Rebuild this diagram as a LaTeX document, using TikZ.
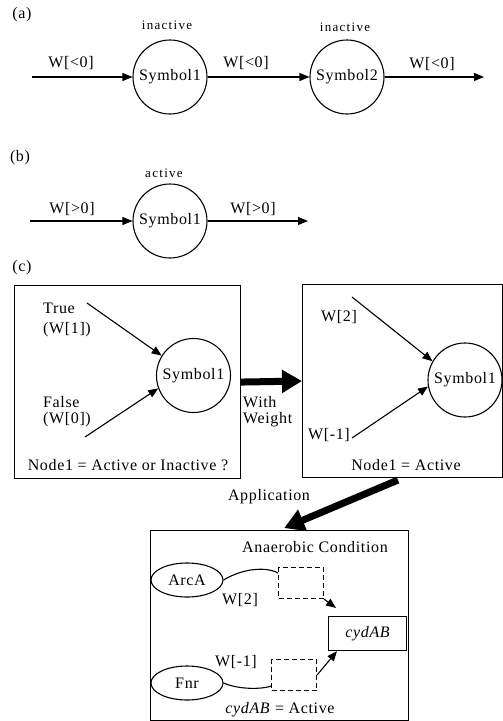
\documentclass[tikz,border=0pt]{standalone}
\usepackage{fontspec}
\setmainfont{Liberation Serif}
\usetikzlibrary{arrows.meta,shapes.geometric}

\begin{document}
\begin{tikzpicture}[x=1pt,y=-1pt,
  txt/.style={font=\fontsize{16}{18}\selectfont\addfontfeatures{LetterSpace=4}, inner sep=0pt},
  small/.style={font=\fontsize{13}{15}\selectfont\addfontfeatures{LetterSpace=10}, inner sep=0pt},
  sym/.style={circle, draw, line width=1.1pt, minimum size=74pt, inner sep=0pt, txt},
  wire/.style={line width=1.1pt, -{Triangle[length=10pt,width=8pt]}},
  bigarrow/.style={line width=7pt, -{Triangle[length=20pt,width=22pt]}},
  panel/.style={draw, line width=1.1pt, inner sep=0pt, anchor=north west},
  tf/.style={ellipse, draw, line width=1.1pt, minimum width=72pt, minimum height=34pt, inner sep=0pt, txt},
  dbox/.style={draw, line width=1.1pt, dash pattern=on 5pt off 3pt, minimum width=45pt, minimum height=31pt, inner sep=0pt},
]
\useasboundingbox (0,0) rectangle (503,721);

% ---------- (a) two inactive symbols in a chain ----------
\node[txt] (la) at (22,15) {(a)};
\node[sym] (a1) at (170,77) {Symbol1};
\node[sym] (a2) at (347,77) {Symbol2};
\node[small] (ia1) at (167,25) {inactive};
\node[small] (ia2) at (345,27) {inactive};
\coordinate (a0) at (32,77);
\coordinate (a3) at (484,77);
\draw[wire] (a0) -- (a1);
\draw[wire] (a1) -- (a2);
\draw[wire] (a2) -- (a3);
\node[txt] (wa1) at (71,63) {W[<0]};
\node[txt] (wa2) at (246,63) {W[<0]};
\node[txt] (wa3) at (432,64) {W[<0]};

% ---------- (b) one active symbol ----------
\node[txt] (lb) at (20,158) {(b)};
\node[sym] (b1) at (170,221) {Symbol1};
\node[small] (ab1) at (164,173) {active};
\coordinate (b0) at (30,221);
\coordinate (b2) at (308,221);
\draw[wire] (b0) -- (b1);
\draw[wire] (b1) -- (b2);
\node[txt] (wb1) at (72,209) {W[>0]};
\node[txt] (wb2) at (253,209) {W[>0]};

% ---------- (c) weighting and its application ----------
\node[txt] (lc) at (22,268) {(c)};

% left panel
\node[panel, minimum width=226pt, minimum height=193pt] (box1) at (14,285) {};
\node[sym] (c1) at (193.5,375.5) {Symbol1};
\coordinate (t1) at (87,303);
\coordinate (f1) at (85,437);
\draw[wire] (t1) -- (c1.148);
\draw[wire] (f1) -- (c1.200);
\node[txt, anchor=west] (tt) at (43,308) {True};
\node[txt, anchor=west] (tw) at (43,330) {(W[1])};
\node[txt, anchor=west] (ft) at (43,402) {False};
\node[txt, anchor=west] (fw) at (43,420) {(W[0])};
\node[txt] (q1) at (128,465) {Node1 = Active or Inactive ?};

% right panel
\node[panel, minimum width=200pt, minimum height=193pt] (box2) at (302,284) {};
\node[sym] (c2) at (465,380) {Symbol1};
\coordinate (t2) at (352,297);
\coordinate (f2) at (352,438);
\draw[wire] (t2) -- (c2.150);
\draw[wire] (f2) -- (c2.190);
\node[txt] (w2) at (339,317) {W[2]};
\node[txt] (wm1) at (329,435) {W[-1]};
\node[txt] (q2) at (406,465) {Node1 = Active};

% transfer between panels
\draw[bigarrow] (box1.east) -- (box2.west);
\node[txt, anchor=west] (ww1) at (243,402) {With};
\node[txt, anchor=west] (ww2) at (243,420) {Weight};

% application panel
\node[panel, minimum width=258pt, minimum height=190pt] (box3) at (150,530) {};
\draw[bigarrow, shorten <=5pt, shorten >=5pt] (box2.south) -- (box3.north);
\node[txt] (app) at (269,497) {Application};
\node[txt] (anc) at (315,547) {Anaerobic Condition};

\node[tf] (arca) at (187,580) {ArcA};
\node[tf] (fnr) at (187,683) {Fnr};
\node[dbox, anchor=north west] (d1) at (278,567) {};
\node[dbox, anchor=north west] (d2) at (271,659) {};
\node[draw, line width=1.1pt, minimum width=78pt, minimum height=34pt, inner sep=0pt, anchor=north west,
      font=\fontsize{16}{18}\selectfont\itshape\addfontfeatures{LetterSpace=4}] (cyd) at (328,616) {cydAB};

\draw[line width=1.1pt] (arca.east) .. controls +(18,-11) and +(-13,-7) .. ([yshift=-6pt]d1.north west);
\draw[line width=1.1pt] (fnr.east) .. controls +(16,7) and +(-8,3) .. ([yshift=5pt]d2.south west);
\draw[wire] (d1.south east) -- ([xshift=8pt,yshift=8pt]cyd.north west);
\draw[wire] (d2.east) -- ([xshift=9pt]cyd.south west);

\node[txt] (aw) at (240,600) {W[2]};
\node[txt] (fw2) at (236,662) {W[-1]};
\node[txt] (res) at (280,710) {\textit{cydAB} = Active};
\end{tikzpicture}
\end{document}
